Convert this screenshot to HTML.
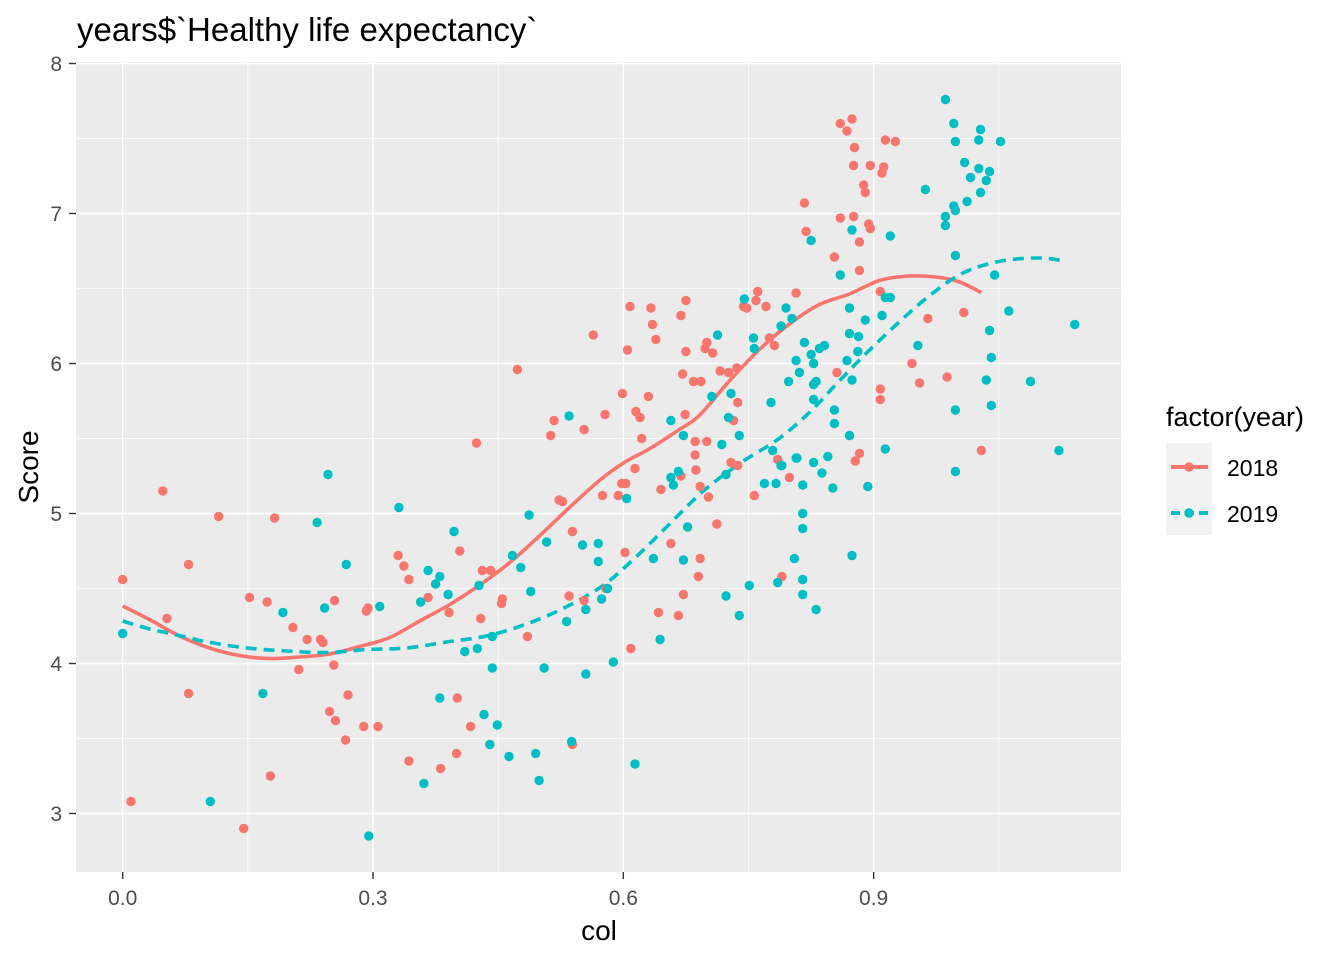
<!DOCTYPE html>
<html><head><meta charset="utf-8"><style>
body{margin:0;background:#fff;font-family:"Liberation Sans",Arial,sans-serif}
svg{display:block}
</style></head><body>
<svg id="chart" width="1344" height="960" xmlns="http://www.w3.org/2000/svg">
<rect width="1344" height="960" fill="#fff"/>
<text x="77" y="41" font-size="33" fill="#000" font-family="Liberation Sans, sans-serif">years$`Healthy life expectancy`</text>
<rect x="76" y="62" width="1045" height="810" fill="#EBEBEB"/>
<g id="grid"></g>
<g id="axes"></g>
<g id="lines"></g>
<g id="points"></g>
<text x="599" y="940" font-size="28" text-anchor="middle" fill="#000">col</text>
<text transform="translate(38,467) rotate(-90)" font-size="28" text-anchor="middle" fill="#000">Score</text>
<g>
<text x="1166" y="426" font-size="27" fill="#000">factor(year)</text>
<rect x="1166" y="443" width="46" height="92" fill="#F2F2F2"/>
<g>
<line x1="1171" y1="467" x2="1208" y2="467" stroke="#F8766D" stroke-width="4"/>
<circle cx="1189" cy="467" r="4.7" fill="#F8766D"/>
<text x="1227" y="476" font-size="23" fill="#000">2018</text></g>
<g>
<line x1="1171" y1="513" x2="1208" y2="513" stroke="#00BFC4" stroke-width="4" stroke-dasharray="9 5"/>
<circle cx="1189" cy="513" r="4.7" fill="#00BFC4"/>
<text x="1227" y="522" font-size="23" fill="#000">2019</text></g>
</g>
</svg>
<script>
const xTicks=[0,0.3,0.6,0.9];
const xTickLabels=["0.0","0.3","0.6","0.9"];
const yTicks=[3,4,5,6,7,8];
const yTickLabels=["3","4","5","6","7","8"];
const x2018=[.048,.115,.182,.079,0,.152,.173,.053,.204,.221,.237,.240,.211,.253,.254,.079,.248,.255,.177,.010,.145,.424,.513,.517,.523,.527,.330,.337,.343,.404,.294,.292,.366,.431,.441,.455,.454,.391,.429,.485,.535,.270,.401,.267,.289,.306,.417,.400,.343,.381,.539,.473,
.761,.608,.633,.675,.669,.635,.639,.564,.605,.675,.700,.698,.707,.744,.748,.759,.771,.775,.781,.807,.716,.726,.736,.671,.684,.693,.599,.630,.737,.578,.615,.620,.674,.553,.732,.622,.686,.700,.686,.729,.737,.614,.687,.669,.598,.603,.785,.799,.645,.692,.575,.594,.702,.757,.539,.602,.657,.692,.690,.712,.672,.642,.666,.609,.790,.553,.579,
.874,.860,.868,.877,.914,.926,.876,.896,.912,.910,.888,.890,.817,.860,.876,.894,.896,.819,.883,.853,.883,.908,.965,1.008,.946,.988,.955,.908,.908,.856,.883,.878,1.029];
const y2018=[5.16,4.99,4.98,4.67,4.57,4.45,4.42,4.31,4.25,4.17,4.17,4.15,3.97,4.00,4.43,3.81,3.69,3.63,3.26,3.09,2.91,5.48,5.53,5.63,5.10,5.09,4.73,4.66,4.57,4.76,4.38,4.36,4.45,4.63,4.63,4.44,4.41,4.35,4.31,4.19,4.46,3.80,3.78,3.50,3.59,3.59,3.59,3.41,3.36,3.31,3.47,5.97,
6.49,6.39,6.38,6.43,6.33,6.27,6.17,6.20,6.10,6.09,6.15,6.11,6.08,6.39,6.38,6.43,6.39,6.18,6.13,6.48,5.96,5.95,5.98,5.94,5.89,5.89,5.81,5.79,5.75,5.67,5.69,5.65,5.67,5.57,5.63,5.51,5.49,5.49,5.40,5.35,5.33,5.31,5.30,5.26,5.21,5.21,5.37,5.25,5.17,5.19,5.13,5.13,5.12,5.13,4.89,4.75,4.81,4.71,4.59,4.94,4.47,4.35,4.33,4.11,4.59,4.43,4.51,
7.64,7.61,7.56,7.45,7.50,7.49,7.33,7.33,7.32,7.28,7.20,7.15,7.08,6.98,6.99,6.94,6.91,6.89,6.82,6.72,6.63,6.49,6.31,6.35,6.01,5.92,5.88,5.84,5.77,5.95,5.41,5.36,5.43];
const x2019=[.246,.233,.192,.242,0,.168,.105,.331,.397,.487,.268,.366,.380,.375,.390,.427,.467,.477,.508,.489,.308,.357,.443,.410,.425,.532,.443,.505,.380,.433,.449,.440,.463,.495,.499,.361,.295,.538,.614,
.745,.795,.802,.789,.713,.756,.757,.807,.798,.706,.729,.777,.535,.657,.726,.739,.672,.718,.779,.807,.789,.723,.657,.666,.660,.769,.783,.604,.551,.570,.570,.677,.636,.672,.815,.815,.805,.874,.581,.574,.555,.723,.751,.739,.785,.815,.815,.831,.644,.588,.555,
.986,.996,1.028,.998,1.026,1.052,1.009,1.026,1.039,1.016,1.035,.962,1.028,1.012,.996,.998,.986,.986,.825,.874,.920,.998,.860,1.045,.914,.920,1.062,.871,.910,.890,1.141,1.039,.871,.882,.817,.841,.835,.953,.825,.881,1.041,.828,.868,.811,.831,.828,.874,1.035,1.088,.828,.853,.998,1.041,.853,.871,.914,1.122,.998,.808,.845,.828,.838,.815,.851,.893,.790];
const y2019=[5.27,4.95,4.35,4.38,4.21,3.81,3.09,5.05,4.89,5.00,4.67,4.63,4.59,4.54,4.47,4.53,4.73,4.65,4.82,4.49,4.39,4.42,4.19,4.09,4.11,4.29,3.98,3.98,3.78,3.67,3.60,3.47,3.39,3.41,3.23,3.21,2.86,3.49,3.34,
6.44,6.38,6.31,6.26,6.20,6.18,6.11,6.03,5.89,5.79,5.81,5.75,5.66,5.63,5.65,5.53,5.53,5.47,5.43,5.38,5.33,5.27,5.25,5.29,5.20,5.21,5.21,5.11,4.80,4.81,4.69,4.92,4.71,4.70,5.01,4.91,4.71,4.73,4.51,4.44,4.37,4.46,4.53,4.33,4.55,4.57,4.47,4.37,4.17,4.02,3.94,
7.77,7.61,7.57,7.49,7.50,7.49,7.35,7.31,7.29,7.25,7.23,7.17,7.15,7.09,7.06,7.03,6.99,6.93,6.83,6.90,6.86,6.73,6.60,6.60,6.45,6.45,6.36,6.38,6.33,6.30,6.27,6.23,6.21,6.19,6.15,6.13,6.11,6.13,6.07,6.09,6.05,6.01,6.03,5.95,5.89,5.87,5.90,5.90,5.89,5.77,5.70,5.70,5.73,5.61,5.53,5.44,5.43,5.29,5.38,5.39,5.35,5.28,5.20,5.18,5.19,5.33];
const smoothX2018=[0,.032,.068,.104,.140,.176,.212,.248,.284,.320,.356,.392,.428,.464,.500,.536,.572,.602,.632,.668,.691,.727,.763,.799,.835,.871,.907,.943,.979,1.003,1.029];
const smoothY2018=[4.39,4.30,4.19,4.11,4.06,4.04,4.05,4.07,4.12,4.18,4.29,4.40,4.53,4.68,4.86,5.05,5.23,5.35,5.44,5.57,5.66,5.89,6.10,6.27,6.40,6.47,6.56,6.59,6.58,6.55,6.48];
const smoothX2019=[0,.030,.054,.078,.102,.149,.197,.245,.293,.340,.388,.436,.484,.530,.574,.610,.647,.683,.703,.742,.785,.823,.857,.892,.928,.965,1.007,1.053,1.099,1.129];
const smoothY2019=[4.29,4.24,4.21,4.18,4.15,4.11,4.09,4.08,4.10,4.11,4.15,4.19,4.27,4.38,4.52,4.69,4.89,5.09,5.19,5.35,5.50,5.68,5.88,6.08,6.27,6.45,6.61,6.69,6.71,6.69];

const NS="http://www.w3.org/2000/svg";
const PL=76,PR=1121,PT=62,PB=872;
function sx(v){return 122.7+v*834.4;}
function sy(v){return 63.5+(8-v)*150;}
function mk(tag,attrs,parent){const e=document.createElementNS(NS,tag);for(const k in attrs)e.setAttribute(k,attrs[k]);parent.appendChild(e);return e;}
const grid=document.getElementById('grid'),axes=document.getElementById('axes'),lines=document.getElementById('lines'),pts=document.getElementById('points');
for(let i=0;i<xTicks.length;i++){const v=xTicks[i]+0.15;if(sx(v)<PR){const l=mk('line',{x1:sx(v),x2:sx(v),y1:PT,y2:PB,stroke:'#fff','stroke-width':0.7},grid);

}}
for(let i=0;i<yTicks.length;i++){const v=yTicks[i]+0.5;if(sy(v)>PT){const l=mk('line',{x1:PL,x2:PR,y1:sy(v),y2:sy(v),stroke:'#fff','stroke-width':0.7},grid);

}}
for(let i=0;i<xTicks.length;i++){const x=sx(xTicks[i]);
const l=mk('line',{x1:x,x2:x,y1:PT,y2:PB,stroke:'#fff','stroke-width':1.4},grid);


const t=mk('line',{x1:x,x2:x,y1:PB,y2:PB+7,stroke:'#333','stroke-width':1.4},axes);


const tx=mk('text',{x:x,y:905,'font-size':21,'text-anchor':'middle',fill:'#4D4D4D'},axes);tx.textContent=xTickLabels[i];

}
for(let i=0;i<yTicks.length;i++){const y=sy(yTicks[i]);
const l=mk('line',{x1:PL,x2:PR,y1:y,y2:y,stroke:'#fff','stroke-width':1.4},grid);


const t=mk('line',{x1:PL-7,x2:PL,y1:y,y2:y,stroke:'#333','stroke-width':1.4},axes);


const tx=mk('text',{x:62,y:y+7.5,'font-size':21,'text-anchor':'end',fill:'#4D4D4D'},axes);tx.textContent=yTickLabels[i];

}
function drawPts(xs,ys,col,name){for(let i=0;i<xs.length;i++){const c=mk('circle',{cx:sx(xs[i]).toFixed(1),cy:(sy(ys[i])+1.5).toFixed(1),r:4.7,fill:col},pts);

}}
function drawLine(xs,ys,col,dash,name){
const P=xs.map((x,i)=>[sx(x),sy(ys[i])+1]);
let d='M'+P[0][0].toFixed(1)+','+P[0][1].toFixed(1);
for(let i=0;i<P.length-1;i++){const p0=P[Math.max(0,i-1)],p1=P[i],p2=P[i+1],p3=P[Math.min(P.length-1,i+2)];
const c1=[p1[0]+(p2[0]-p0[0])/6,p1[1]+(p2[1]-p0[1])/6],c2=[p2[0]-(p3[0]-p1[0])/6,p2[1]-(p3[1]-p1[1])/6];
d+='C'+c1[0].toFixed(1)+','+c1[1].toFixed(1)+' '+c2[0].toFixed(1)+','+c2[1].toFixed(1)+' '+p2[0].toFixed(1)+','+p2[1].toFixed(1);}
const p=mk('path',{d:d,fill:'none',stroke:col,'stroke-width':3.6,'stroke-linejoin':'round'},lines);if(dash)p.setAttribute('stroke-dasharray',dash);

}
drawPts(x2018,y2018,'#F8766D','point-2018');
drawPts(x2019,y2019,'#00BFC4','point-2019');
drawLine(smoothX2018,smoothY2018,'#F8766D',null,'smooth-line-2018');
drawLine(smoothX2019,smoothY2019,'#00BFC4','11 7','smooth-line-2019');
</script>
</body></html>
